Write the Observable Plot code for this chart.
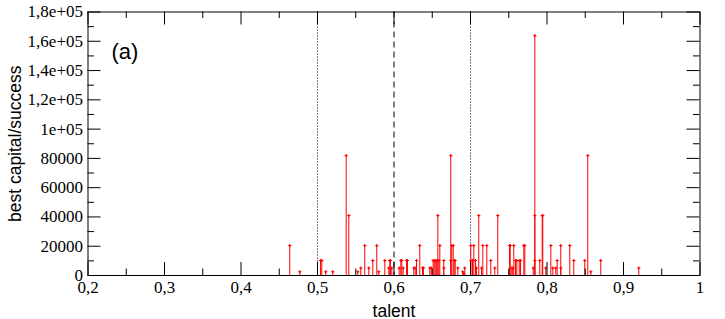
<!DOCTYPE html>
<html>
<head>
<meta charset="utf-8">
<script src="https://cdn.jsdelivr.net/npm/d3@7"></script>
<script src="https://cdn.jsdelivr.net/npm/@observablehq/plot@0.6"></script>
<style>
  html, body { margin: 0; padding: 0; background: #ffffff; }
  #chart { position: relative; width: 725px; height: 319px; }
  #chart svg { display: block; }
  #chart svg.overlay { position: absolute; left: 0; top: 0; }
</style>
</head>
<body>
<div id="chart"></div>
<script>
// ---- data ----
const talent = [
  0.4638, 0.4769, 0.5039, 0.5056, 0.5108, 0.5200, 0.5375, 0.5409, 0.5527, 0.5566,
  0.5618, 0.5671, 0.5723, 0.5775, 0.5801, 0.5880, 0.5932, 0.5945, 0.5953, 0.5971,
  0.6068, 0.6089, 0.6102, 0.6120, 0.6163, 0.6176, 0.6259, 0.6277, 0.6294, 0.6337,
  0.6373, 0.6386, 0.6468, 0.6486, 0.6512, 0.6525, 0.6538, 0.6552, 0.6562, 0.6573,
  0.6586, 0.6599, 0.6651, 0.6651, 0.6742, 0.6742, 0.6755, 0.6774, 0.6787, 0.6800,
  0.6834, 0.6899, 0.6912, 0.6925, 0.7004, 0.7004, 0.7026, 0.7043, 0.7065, 0.7078,
  0.7108, 0.7144, 0.7161, 0.7213, 0.7265, 0.7318, 0.7357, 0.7510, 0.7519, 0.7540,
  0.7553, 0.7566, 0.7588, 0.7605, 0.7637, 0.7654, 0.7697, 0.7710, 0.7820, 0.7841,
  0.7841, 0.7841, 0.7906, 0.7937, 0.7945, 0.7984, 0.8050, 0.8076, 0.8115, 0.8133,
  0.8180, 0.8180, 0.8298, 0.8350, 0.8494, 0.8533, 0.8573, 0.8703, 0.9200
];
const capital = [
  20480, 2560, 10240, 10240, 2560, 2560, 81920, 40960, 2560, 5120,
  20480, 5120, 10240, 20480, 2560, 10240, 5120, 10240, 10240, 5120,
  5120, 10240, 10240, 5120, 10240, 10240, 5120, 5120, 10240, 20480,
  5120, 5120, 5120, 5120, 10240, 10240, 10240, 10240, 10240, 40960,
  10240, 20480, 10240, 5120, 81920, 10240, 20480, 20480, 10240, 10240,
  5120, 2560, 1280, 5120, 20480, 10240, 10240, 20480, 10240, 5120,
  40960, 5120, 20480, 20480, 10240, 5120, 40960, 20480, 20480, 5120,
  5120, 20480, 10240, 10240, 10240, 10240, 20480, 20480, 5120, 163840,
  40960, 10240, 10240, 40960, 40960, 5120, 20480, 5120, 5120, 10240,
  20480, 5120, 20480, 10240, 10240, 81920, 2560, 10240, 5120
];

const xMajor = [0.2, 0.3, 0.4, 0.5, 0.6, 0.7, 0.8, 0.9, 1.0];
const xMinor = [0.25, 0.35, 0.45, 0.55, 0.65, 0.75, 0.85, 0.95];
const xTickLabels = ["0,2", "0,3", "0,4", "0,5", "0,6", "0,7", "0,8", "0,9", "1"];
const yMajor = [0, 20000, 40000, 60000, 80000, 100000, 120000, 140000, 160000, 180000];
const yMinor = [10000, 30000, 50000, 70000, 90000, 110000, 130000, 150000, 170000];
const yTickLabels = ["0", "20000", "40000", "60000", "80000", "1e+05", "1,2e+05", "1,4e+05", "1,6e+05", "1,8e+05"];
const refLines = [0.5, 0.6, 0.7];
const refDash = ["1,2", "6,4", "1,2"];
const xLabel = "talent";
const yLabel = "best capital/success";
const panelLabel = "(a)";

// ---- build ----
const W = 725, H = 319;
const ML = 87.5, MR = 25.5, MT = 11.5, MB = 44;
const FW = W - ML - MR, FH = H - MT - MB;
const X0 = 0.2, X1 = 1, Y0 = 0, Y1 = 180000;
const rows = talent.map((t, i) => ({talent: t, capital: capital[i]}));
const serif = "Liberation Serif";
const sans = "Liberation Sans";
const layout = {
  width: W, height: H, marginLeft: ML, marginRight: MR, marginTop: MT, marginBottom: MB,
  x: {domain: [X0, X1], axis: null},
  y: {domain: [Y0, Y1], axis: null}
};

// main chart: data, reference lines, frame, texts
const chart = Plot.plot({
  ...layout,
  marks: [
    ...refLines.map((v, i) => Plot.ruleX([v], {x: d => d, stroke: "black", strokeWidth: 1, strokeDasharray: refDash[i]})),
    Plot.ruleX(rows, {x: "talent", y1: 0, y2: "capital", stroke: "#ff0000", strokeWidth: 1}),
    Plot.dot(rows, {x: "talent", y: "capital", symbol: "plus", r: 1.1, stroke: "#ff0000", strokeWidth: 1}),
    Plot.frame({stroke: "black", strokeWidth: 1}),
    Plot.text(xMajor, {x: d => d, frameAnchor: "bottom", text: (d, i) => xTickLabels[i],
      lineAnchor: "top", dy: 5, fontFamily: serif, fontSize: 17}),
    Plot.text(yMajor, {y: d => d, frameAnchor: "left", text: (d, i) => yTickLabels[i],
      textAnchor: "end", dx: -5, fontFamily: serif, fontSize: 17}),
    Plot.text([xLabel], {frameAnchor: "bottom", dy: 41, fontFamily: sans, fontSize: 17.5}),
    Plot.text([yLabel], {frameAnchor: "left", textAnchor: "middle", rotate: -90, dx: -73, fontFamily: sans, fontSize: 17.5}),
    Plot.text([panelLabel], {frameAnchor: "top-left", textAnchor: "start", dx: 23.5, dy: 31, fontFamily: sans, fontSize: 22})
  ]
});

// inward ticks on all four sides, drawn on a transparent layer with the same scales
const MAJ = 13, MIN = 6.5;
const tk = {stroke: "black", strokeWidth: 1};
const tickLayer = Plot.plot({
  ...layout,
  style: {background: "transparent"},
  marks: [
    Plot.ruleX(xMajor, {x: d => d, insetTop: FH - MAJ, ...tk}),
    Plot.ruleX(xMinor, {x: d => d, insetTop: FH - MIN, ...tk}),
    Plot.ruleX(xMajor, {x: d => d, insetBottom: FH - MAJ, ...tk}),
    Plot.ruleX(xMinor, {x: d => d, insetBottom: FH - MIN, ...tk}),
    Plot.ruleY(yMajor, {y: d => d, insetRight: FW - MAJ, ...tk}),
    Plot.ruleY(yMinor, {y: d => d, insetRight: FW - MIN, ...tk}),
    Plot.ruleY(yMajor, {y: d => d, insetLeft: FW - MAJ, ...tk}),
    Plot.ruleY(yMinor, {y: d => d, insetLeft: FW - MIN, ...tk})
  ]
});
tickLayer.classList.add("overlay");

const host = document.getElementById("chart");
host.appendChild(chart);
host.appendChild(tickLayer);
</script>
</body>
</html>
